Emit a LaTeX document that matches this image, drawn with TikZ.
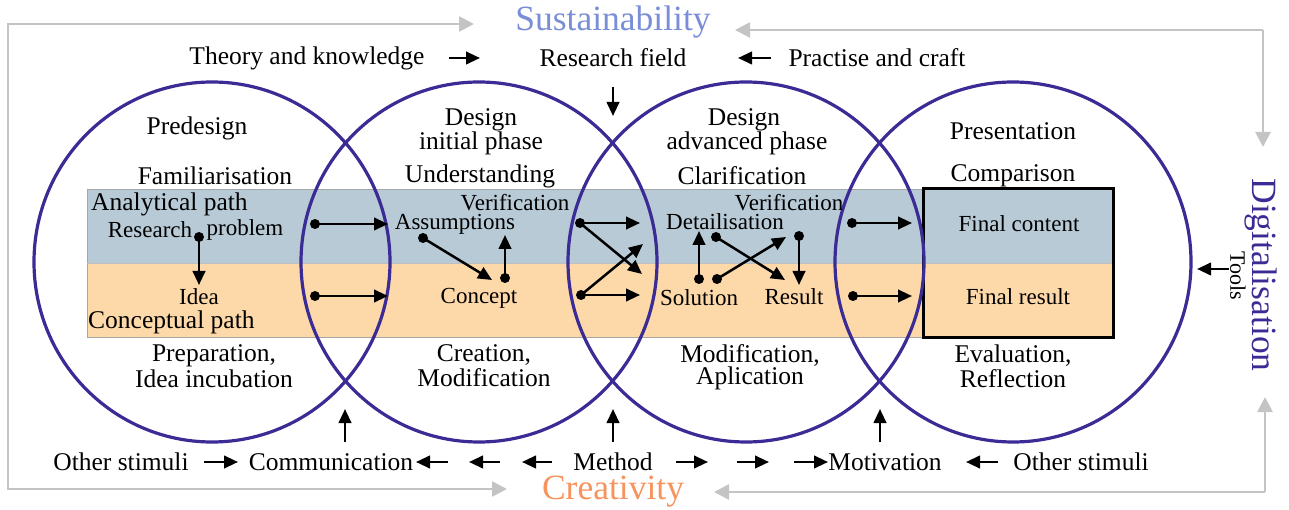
\documentclass[tikz,border=0pt]{standalone}
\usepackage{fontspec}
\setmainfont{Liberation Serif}
\usetikzlibrary{arrows.meta}
\definecolor{circ}{HTML}{3A2B95}
\definecolor{bandblue}{HTML}{B7CAD6}
\definecolor{bandorange}{HTML}{FDD8A8}
\definecolor{framegray}{HTML}{C4C4C4}
\definecolor{sustc}{HTML}{7A8ED8}
\definecolor{creac}{HTML}{F7935C}
\begin{document}
\begin{tikzpicture}[x=1pt,y=-1pt,
 txt/.style={font=\fontsize{25.5}{25.5}\selectfont, inner sep=0pt},
 sml/.style={font=\fontsize{23}{23}\selectfont, inner sep=0pt},
 big/.style={font=\fontsize{35.5}{35.5}\selectfont, inner sep=0pt},
 arr/.style={line width=2.5pt, -{Triangle[length=14pt,width=12.5pt]}},
 gr/.style={line width=2.6pt, framegray, -{Triangle[length=15pt,width=15pt]}},
 ring/.style={circ, line width=3.2pt},
 dot/.style={circle, fill=black, inner sep=0pt, minimum size=10pt},
]
\useasboundingbox (0,0) rectangle (1289,510);
% bands
\fill[bandblue] (87,189) rectangle (1113,263);
\fill[bandorange] (87,263) rectangle (1113,337);
\draw[gray!70, line width=0.8pt] (87,189) rectangle (1113,337);
\draw[gray!50, line width=0.6pt] (87,263) -- (1113,263);
\draw[black, line width=3pt] (923,189) rectangle (1113,337);
% circles
\foreach \cx/\nm in {212/c1,479/c2,746/c3,1013/c4}
  \draw[ring] (\cx,262) ellipse [x radius=178, y radius=180];
% gray frame
\coordinate (tl) at (8,24);
\coordinate (bl) at (8,489);
\coordinate (tr) at (1263,30);
\coordinate (br) at (1265,492);
\coordinate (sustL) at (474,24);
\coordinate (sustR) at (735,30);
\coordinate (digT) at (1263,147);
\coordinate (digB) at (1265,397);
\coordinate (creaL) at (507,489);
\coordinate (creaR) at (714,492);
\draw[gr] (bl) -- (tl) -- (sustL);
\draw[gr] (tl) -- (bl) -- (creaL);
\draw[gr] (tr) -- (sustR);
\draw[gr] (tr) -- (digT);
\draw[gr] (br) -- (creaR);
\draw[gr] (br) -- (digB);
% big labels
\node[big, text=sustc] (sust) at (613,22) {Sustainability};
\node[big, text=creac] (crea) at (613,492) {Creativity};
\node[big, text=circ, rotate=-90] (digi) at (1261,275) {Digitalisation};
\node[font=\fontsize{22}{22}\selectfont, inner sep=0pt, rotate=-90] (tools) at (1238,276) {Tools};
% top row
\node[txt] (theory) at (307,58) {Theory and knowledge};
\node[txt] (rfield) at (613,58) {Research field};
\node[txt] (practise) at (877,58) {Practise and craft};
\coordinate (a1s) at (449,58); \coordinate (a1e) at (480,58);
\coordinate (a2s) at (771,58); \coordinate (a2e) at (738,58);
\coordinate (a3s) at (613,87); \coordinate (a3e) at (613,116);
\draw[arr] (a1s) -- (a1e);
\draw[arr] (a2s) -- (a2e);
\draw[arr] (a3s) -- (a3e);
% circle headings
\node[txt] (predesign) at (197,128) {Predesign};
\node[txt] (famil) at (215,176) {Familiarisation};
\node[txt] (des1) at (481,120) {Design};
\node[txt] (init) at (481,143) {initial phase};
\node[txt] (underst) at (480,176) {Understanding};
\node[txt] (des2) at (744,120) {Design};
\node[txt] (adv) at (747,143) {advanced phase};
\node[txt] (clarif) at (742,176) {Clarification};
\node[txt] (present) at (1013,131) {Presentation};
\node[txt] (compar) at (1013,176) {Comparison};
% bottom headings
\node[txt] (prep) at (214,356) {Preparation,};
\node[txt] (incub) at (214,379) {Idea incubation};
\node[txt] (creat) at (484,355) {Creation,};
\node[txt] (modif) at (484,378) {Modification};
\node[txt] (modif2) at (750,355) {Modification,};
\node[txt] (aplic) at (750,378) {Aplication};
\node[txt] (evalu) at (1013,356) {Evaluation,};
\node[txt] (reflec) at (1013,379) {Reflection};
% band texts
\node[txt, anchor=west] (anal) at (91,204) {Analytical path};
\node[txt, anchor=west] (concp) at (88,322) {Conceptual path};
\node[sml] (research) at (150,230) {Research};
\node[sml] (problem) at (245,230) {problem};
\node[sml] (idea) at (199,297) {Idea};
\node[sml] (assump) at (455,224) {Assumptions};
\node[sml] (verif1) at (515,203) {Verification};
\node[sml] (concept) at (479,298) {Concept};
\node[sml] (detail) at (725,222) {Detailisation};
\node[sml] (verif2) at (789,203) {Verification};
\node[sml] (solution) at (699,298) {Solution};
\node[sml] (result) at (794,297) {Result};
\node[sml] (fcontent) at (1019,224) {Final content};
\node[sml] (fresult) at (1018,297) {Final result};
% dots and arrows in band
\node[dot] (d1) at (199,237) {}; \coordinate (e1) at (199,285);
\node[dot] (d2) at (315,224) {}; \coordinate (e2) at (388,224);
\node[dot] (d3) at (315,296) {}; \coordinate (e3) at (388,296);
\node[dot] (d4) at (423,238) {}; \coordinate (e4) at (492,280);
\node[dot] (d5) at (505,278) {}; \coordinate (e5) at (505,235);
\node[dot] (d6) at (580,223) {}; \coordinate (e6a) at (640,223); \coordinate (e6b) at (642,274);
\node[dot] (d7) at (581,295) {}; \coordinate (e7a) at (640,295); \coordinate (e7b) at (643,244);
\node[dot] (d8) at (699,279) {}; \coordinate (e8) at (699,231);
\node[dot] (d9) at (716,237) {}; \coordinate (e9) at (785,280);
\node[dot] (d10) at (717,279) {}; \coordinate (e10) at (786,237);
\node[dot] (d11) at (799,236) {}; \coordinate (e11) at (799,285);
\node[dot] (d12) at (852,223) {}; \coordinate (e12) at (912,223);
\node[dot] (d13) at (853,296) {}; \coordinate (e13) at (912,296);
\foreach \s/\e in {d1/e1,d2/e2,d3/e3,d4/e4,d5/e5,d6/e6a,d6/e6b,d7/e7a,d7/e7b,d8/e8,d9/e9,d10/e10,d11/e11,d12/e12,d13/e13}
  \draw[arr] (\s.center) -- (\e);
% bottom row
\node[txt] (oth1) at (121,462) {Other stimuli};
\node[txt] (comm) at (331,462) {Communication};
\node[txt] (method) at (613,462) {Method};
\node[txt] (motiv) at (885,462) {Motivation};
\node[txt] (oth2) at (1081,462) {Other stimuli};
\coordinate (b1s) at (204,462); \coordinate (b1e) at (238,462);
\coordinate (b2s) at (448,462); \coordinate (b2e) at (416,462);
\coordinate (b3s) at (500,462); \coordinate (b3e) at (469,462);
\coordinate (b4s) at (552,462); \coordinate (b4e) at (522,462);
\coordinate (b5s) at (676,462); \coordinate (b5e) at (708,462);
\coordinate (b6s) at (737,462); \coordinate (b6e) at (769,462);
\coordinate (b7s) at (794,462); \coordinate (b7e) at (828,462);
\coordinate (b8s) at (998,462); \coordinate (b8e) at (966,462);
\coordinate (u1s) at (345,442); \coordinate (u1e) at (345,409);
\coordinate (u2s) at (613,442); \coordinate (u2e) at (613,409);
\coordinate (u3s) at (880,442); \coordinate (u3e) at (880,409);
\coordinate (t1s) at (1229,269); \coordinate (t1e) at (1197,269);
\foreach \s/\e in {b1s/b1e,b2s/b2e,b3s/b3e,b4s/b4e,b5s/b5e,b6s/b6e,b7s/b7e,b8s/b8e,u1s/u1e,u2s/u2e,u3s/u3e,t1s/t1e}
  \draw[arr] (\s) -- (\e);
\end{tikzpicture}
\end{document}
